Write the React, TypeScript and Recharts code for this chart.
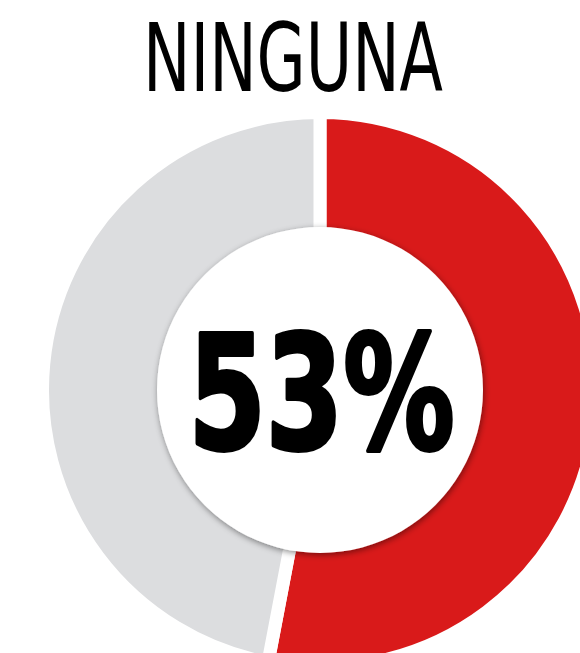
import React from 'react';
import { PieChart, Pie, Cell, Label, Customized } from 'recharts';

const TITLE = 'NINGUNA';
const CATEGORIES = ['Ninguna', 'Resto'];
const VALUES = [53, 47];
const COLORS = ['#d91a1a', '#dcdddf'];
const CENTER = [{ name: 'centro', value: 1 }];

const ringData = CATEGORIES.map((name, i) => ({ name, value: VALUES[i] }));

const Title = () => (
  <text
    x={293}
    y={91}
    textAnchor="middle"
    textLength={300}
    lengthAdjust="spacingAndGlyphs"
    fontFamily="'Liberation Sans Narrow', 'DejaVu Sans Condensed', 'Roboto', sans-serif"
    fontSize={94}
    fill="#000"
  >
    {TITLE}
  </text>
);

export default function App() {
  return (
    <div style={{ position: 'absolute', left: 0, top: 0, width: 580, height: 653, background: '#fff' }}>
      <svg width={0} height={0} style={{ position: 'absolute' }}>
        <defs>
          <filter id="innerShadow" x="-20%" y="-20%" width="140%" height="140%">
            <feDropShadow dx={1} dy={2} stdDeviation={3} floodColor="#000" floodOpacity={0.45} />
          </filter>
        </defs>
      </svg>
      <PieChart width={580} height={653} margin={{ top: 0, right: 0, bottom: 0, left: 0 }}>
        <Pie
          data={ringData}
          dataKey="value"
          cx={320}
          cy={390}
          startAngle={90}
          endAngle={-270}
          innerRadius={140}
          outerRadius={277.5}
          stroke="#fff"
          strokeWidth={13}
          isAnimationActive={false}
        >
          {ringData.map((entry, index) => (
            <Cell key={`cell-${index}`} fill={COLORS[index]} />
          ))}
        </Pie>
        <Pie
          data={CENTER}
          dataKey="value"
          cx={320}
          cy={390}
          startAngle={90}
          endAngle={-270}
          innerRadius={0}
          outerRadius={163}
          stroke="none"
          isAnimationActive={false}
        >
          <Cell fill="#fff" filter="url(#innerShadow)" />
          <Label
            position="center"
            content={() => (
              <text
                x={321.5}
                y={449}
                textAnchor="middle"
                textLength={266}
                lengthAdjust="spacingAndGlyphs"
                fontFamily="'Liberation Sans Narrow', 'DejaVu Sans Condensed', 'Roboto', sans-serif"
                fontWeight="bold"
                fontSize={158}
                fill="#000"
                stroke="#000"
                strokeWidth={4}
                strokeLinejoin="round"
              >
                {`${VALUES[0]}%`}
              </text>
            )}
          />
        </Pie>
        <Customized component={Title} />
      </PieChart>
    </div>
  );
}
